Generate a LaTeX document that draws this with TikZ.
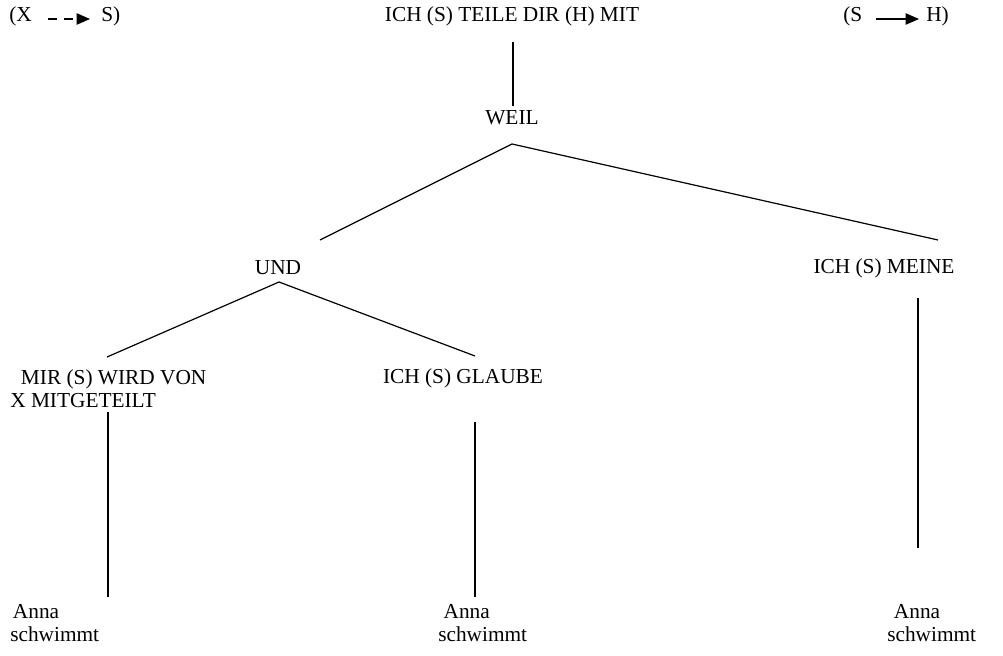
\documentclass[tikz,border=0pt]{standalone}
\usepackage{fontspec}
\setmainfont{Liberation Serif}
\usetikzlibrary{arrows.meta,positioning}
\tikzset{>={Triangle[length=10pt,width=8.5pt]}}
\tikzset{lbl/.style={inner sep=0pt,font=\fontsize{16}{17.25}\selectfont}}
\tikzset{lbltwo/.style={lbl,align=left}}
\tikzset{branch/.style={line width=0.9pt}}

\begin{document}
\begin{tikzpicture}[x=0.75pt,y=-0.75pt]
				\useasboundingbox (0,0) rectangle (1003,656);
				% heading row
				\node [lbl,anchor=west] (xa) at (9,16) {(X};
				\node [lbl,anchor=west] (sa) at (101,16) {S)};
				\node [lbl,anchor=west] (sb) at (843,16) {(S};
				\node [lbl,anchor=west] (hb) at (926,16) {H)};
				\node [lbl] (top) at (512,16) {ICH (S) TEILE DIR (H) MIT};
				\coordinate (xaE) at (48,19);
				\coordinate (saW) at (90,19);
				\coordinate (sbE) at (876,19);
				\coordinate (hbW) at (919,19);
				\draw [branch,->,dash pattern=on 7pt off 5pt] (xaE) -- (saW);
				\draw [branch,->] (sbE) -- (hbW);
				
				% tree
				\node [lbl] (weil) at (512,118) {WEIL};
				\node [lbl] (und) at (278,268) {UND};
				\node [lbl] (meine) at (884,268) {ICH (S) MEINE};
				\node [lbltwo,anchor=north west] (mir) at (10,369) {\hspace*{8pt}MIR (S) WIRD VON\\X MITGETEILT};
				\node [lbl] (glaube) at (463,378) {ICH (S) GLAUBE};
				\node [lbltwo,anchor=north west] (annaA) at (10,604) {\hspace*{2pt}Anna\\schwimmt};
				\node [lbltwo,anchor=north west] (annaB) at (438,604) {\hspace*{4pt}Anna\\schwimmt};
				\node [lbltwo,anchor=north west] (annaC) at (887,604) {\hspace*{5pt}Anna\\schwimmt};
				
				\coordinate (topB) at (513,42);
				\coordinate (weilT) at (513,106);
				\coordinate (weilB) at (512,144);
				\coordinate (undT) at (320,240);
				\coordinate (meineT) at (938,240);
				\coordinate (undB) at (279,282);
				\coordinate (mirT) at (107,357);
				\coordinate (glaubeT) at (475,356);
				\coordinate (mirB) at (108,412);
				\coordinate (annaAT) at (108,597);
				\coordinate (glaubeB) at (475,422);
				\coordinate (annaBT) at (475,597);
				\coordinate (meineB) at (918,298);
				\coordinate (annaCT) at (918,548);
				
				\draw [branch] (topB) -- (weilT);
				\draw [branch] (undT) -- (weilB) -- (meineT);
				\draw [branch] (mirT) -- (undB) -- (glaubeT);
				\draw [branch] (mirB) -- (annaAT);
				\draw [branch] (glaubeB) -- (annaBT);
				\draw [branch] (meineB) -- (annaCT);
				\end{tikzpicture}
\end{document}
